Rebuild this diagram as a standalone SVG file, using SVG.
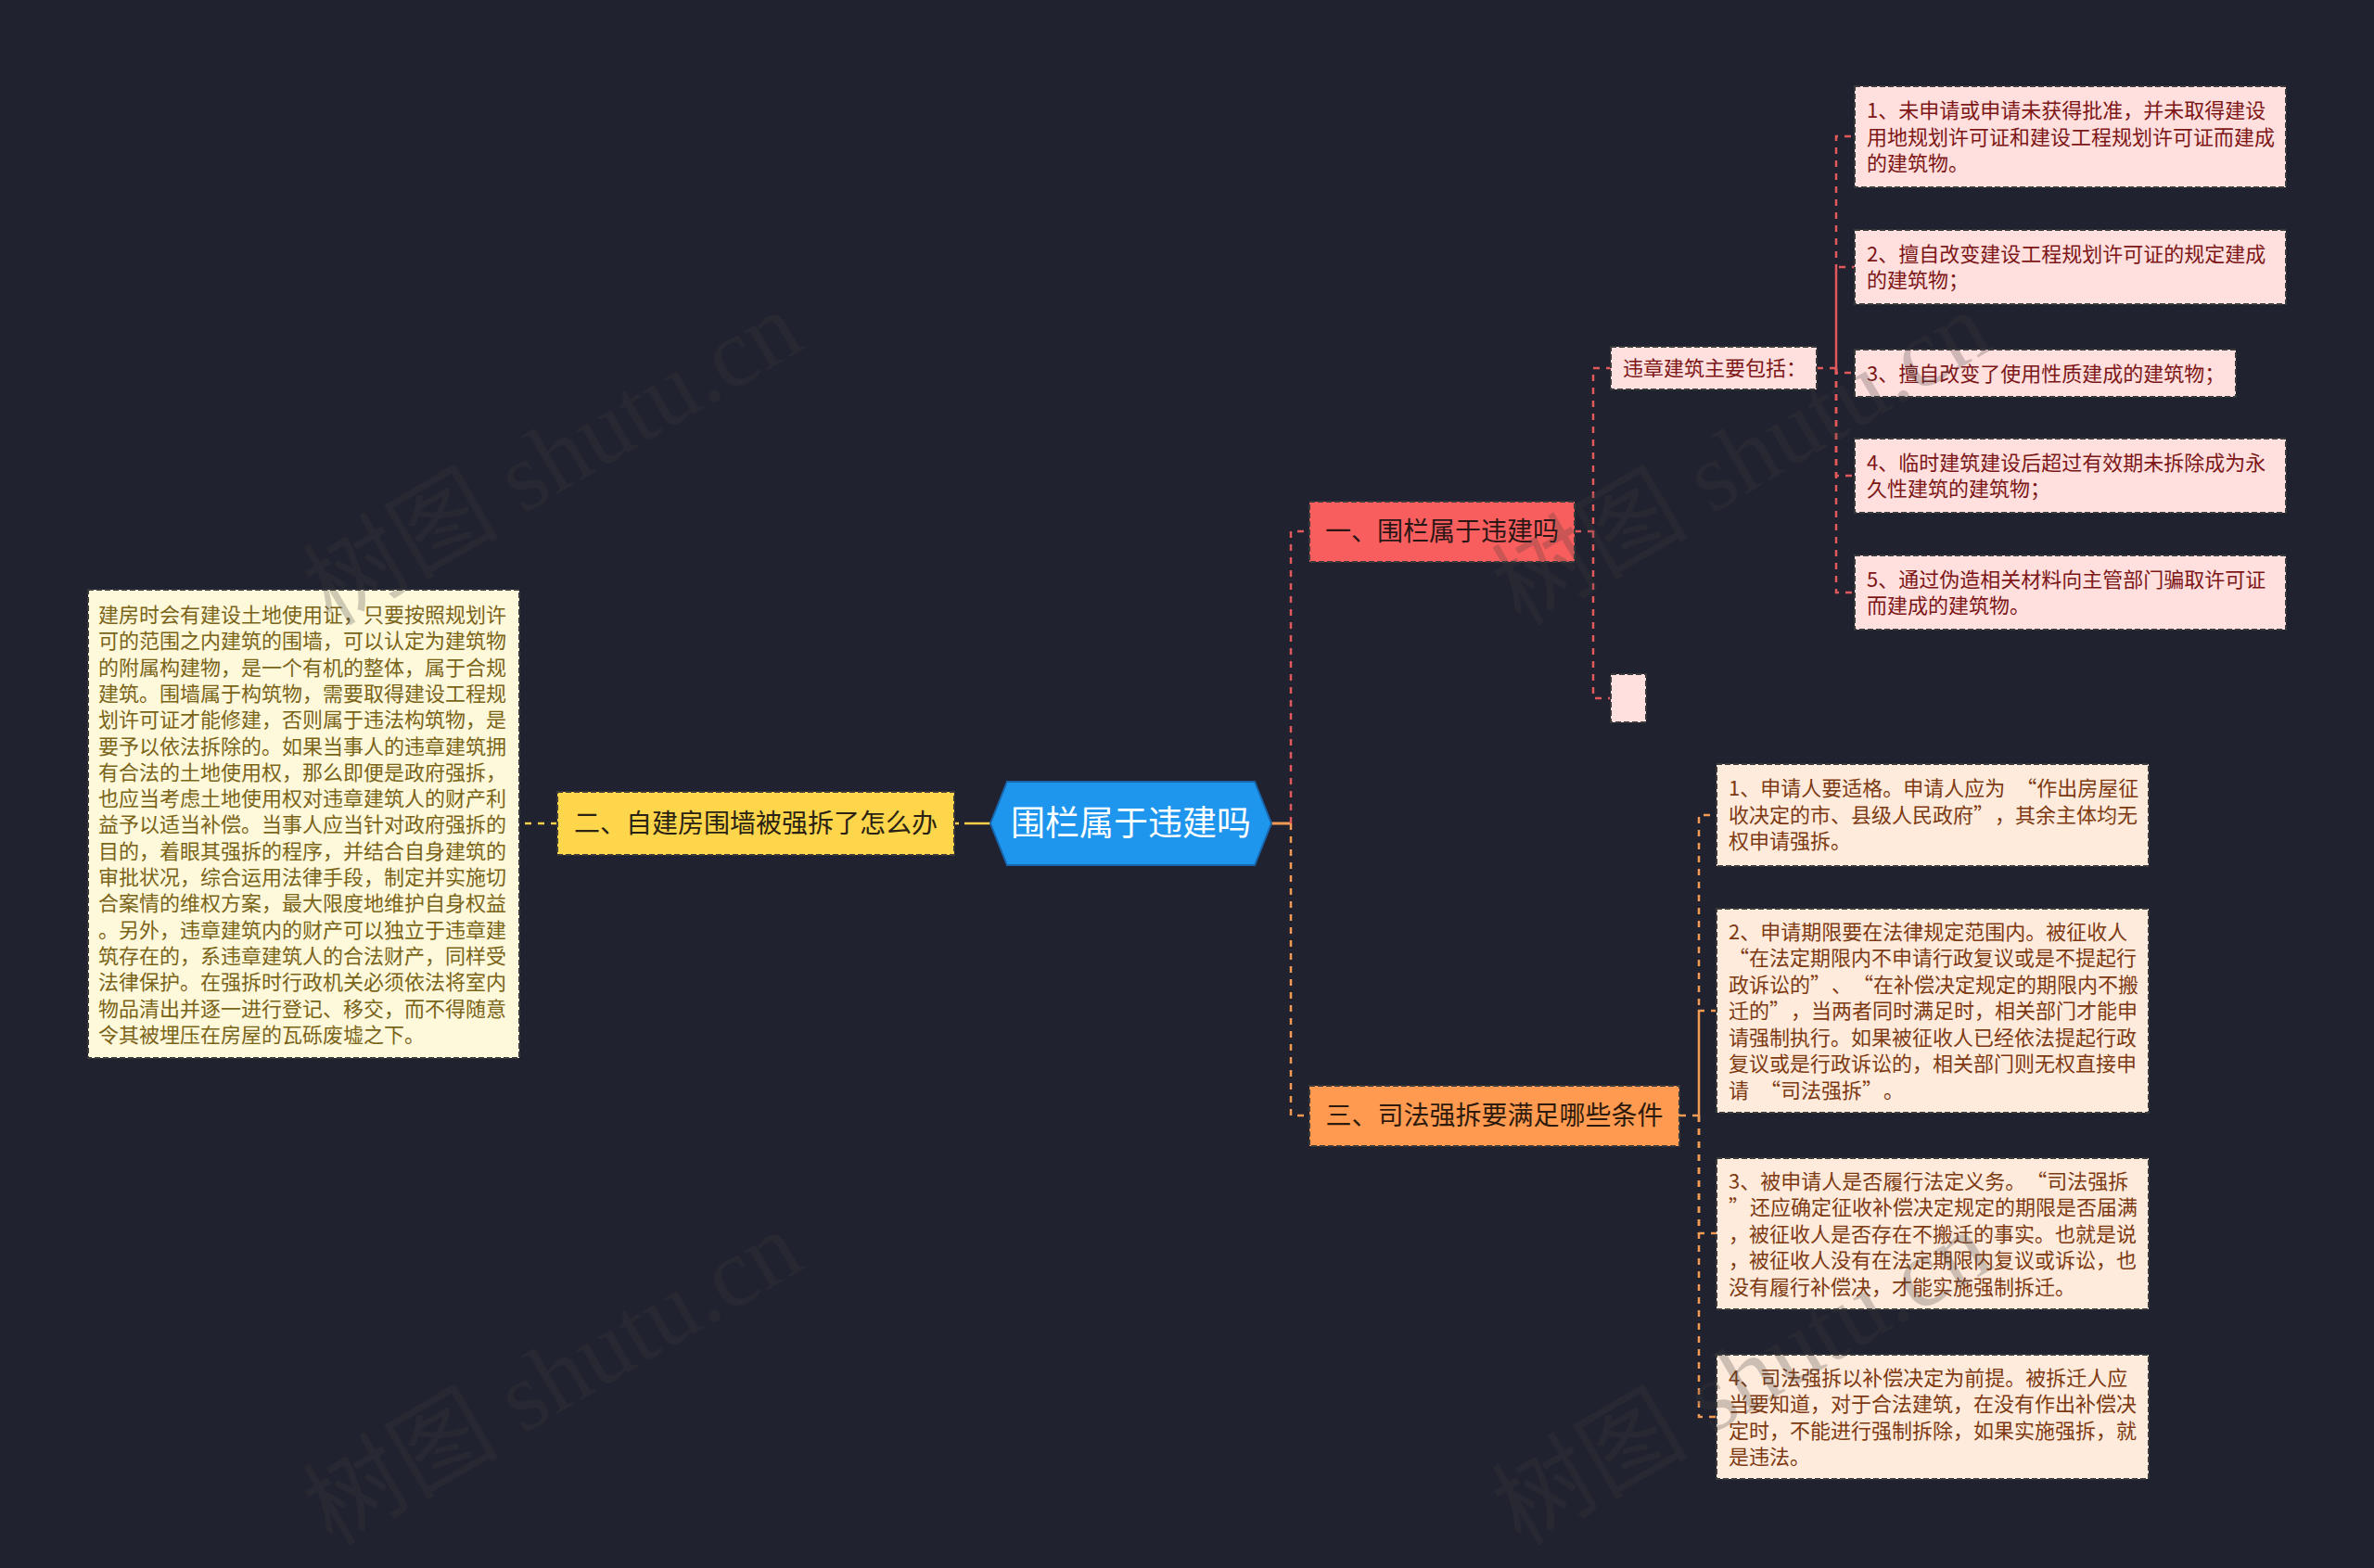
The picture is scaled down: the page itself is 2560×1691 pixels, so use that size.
<svg xmlns="http://www.w3.org/2000/svg" width="2560" height="1691" viewBox="0 0 2560 1691">
<style>
text{font-family:"Noto Sans CJK SC","Noto Sans",sans-serif;}
.wm{font-family:"Liberation Serif","Noto Sans CJK SC",serif;font-size:106px;fill:#3c3c3c;opacity:0.25;}
.box{stroke:#3a3a3a;stroke-width:2;stroke-dasharray:6 3;}
.leaf{font-size:22px;fill:#7a6418;}
.pk{fill:#FFE0DF;}
.pkt{font-size:22px;fill:#7d1616;}
.pc{fill:#FFEBDC;}
.pct{font-size:22px;fill:#7d3a12;}
.red{fill:none;stroke:#E2595B;stroke-width:2.5;stroke-dasharray:7 7;}
.org{fill:none;stroke:#F39A55;stroke-width:2.5;stroke-dasharray:7 7;}
.yel{fill:none;stroke:#F5CF4A;stroke-width:2.5;stroke-dasharray:7 7;}
</style>
<rect x="0" y="0" width="2560" height="1691" fill="#20222F"/>

<g id="connectors">
  <line x1="1371" y1="888" x2="1392" y2="888" stroke="#F39A55" stroke-width="3"/>
  <path class="red" d="M1392,888 V573 H1412"/>
  <path class="org" d="M1392,888 V1203 H1412"/>
  <path class="yel" d="M1068,888 H1029" style="stroke-dasharray:28 6 6 6"/>
  <path class="yel" d="M601,888 H560"/>
  <path class="red" d="M1698,573 H1718 V397 H1737"/>
  <path class="red" d="M1718,573 V753 H1737"/>
  <path class="red" d="M1959,397 H1980 V147 H2000"/>
  <path class="red" d="M1980,397 V288 H2000"/>
  <path class="red" d="M1980,397 V402 H2000"/>
  <path class="red" d="M1980,397 V513 H2000"/>
  <path class="red" d="M1980,397 V639 H2000"/>
  <path class="org" d="M1811,1203 H1832 V879 H1851"/>
  <path class="org" d="M1832,1203 V1090 H1851"/>
  <path class="org" d="M1832,1203 V1330 H1851"/>
  <path class="org" d="M1832,1203 V1528 H1851"/>
</g>

<g id="root">
  <polygon points="1068,888 1086,843 1353,843 1371,888 1353,933 1086,933" fill="#1E96EE" stroke="#1866AD" stroke-width="2"/>
  <text x="1219.5" y="901" font-size="37" fill="#FFFFFF" text-anchor="middle">围栏属于违建吗</text>
</g>

<g id="n2">
  <rect class="box" x="601" y="854" width="428" height="68" fill="#FDD64C"/>
  <text x="815" y="898" font-size="28" fill="#2a2212" text-anchor="middle">二、自建房围墙被强拆了怎么办</text>
</g>

<g id="n2-leaf">
  <rect class="box" x="95" y="636" width="465" height="505" fill="#FFF9DC"/>
  <text class="leaf">
    <tspan x="106" y="671">建房时会有建设土地使用证，只要按照规划许</tspan>
    <tspan x="106" y="699.3">可的范围之内建筑的围墙，可以认定为建筑物</tspan>
    <tspan x="106" y="727.6">的附属构建物，是一个有机的整体，属于合规</tspan>
    <tspan x="106" y="755.9">建筑。围墙属于构筑物，需要取得建设工程规</tspan>
    <tspan x="106" y="784.2">划许可证才能修建，否则属于违法构筑物，是</tspan>
    <tspan x="106" y="812.5">要予以依法拆除的。如果当事人的违章建筑拥</tspan>
    <tspan x="106" y="840.8">有合法的土地使用权，那么即便是政府强拆，</tspan>
    <tspan x="106" y="869.1">也应当考虑土地使用权对违章建筑人的财产利</tspan>
    <tspan x="106" y="897.4">益予以适当补偿。当事人应当针对政府强拆的</tspan>
    <tspan x="106" y="925.7">目的，着眼其强拆的程序，并结合自身建筑的</tspan>
    <tspan x="106" y="954">审批状况，综合运用法律手段，制定并实施切</tspan>
    <tspan x="106" y="982.3">合案情的维权方案，最大限度地维护自身权益</tspan>
    <tspan x="106" y="1010.6">。另外，违章建筑内的财产可以独立于违章建</tspan>
    <tspan x="106" y="1038.9">筑存在的，系违章建筑人的合法财产，同样受</tspan>
    <tspan x="106" y="1067.2">法律保护。在强拆时行政机关必须依法将室内</tspan>
    <tspan x="106" y="1095.5">物品清出并逐一进行登记、移交，而不得随意</tspan>
    <tspan x="106" y="1123.8">令其被埋压在房屋的瓦砾废墟之下。</tspan>
  </text>
</g>

<g id="n1">
  <rect class="box" x="1412" y="541" width="286" height="65" fill="#F95E5E"/>
  <text x="1555" y="583" font-size="28" fill="#2b1616" text-anchor="middle">一、围栏属于违建吗</text>
</g>

<g id="n1-a">
  <rect class="box pk" x="1737" y="374" width="222" height="46"/>
  <text class="pkt" x="1750" y="405">违章建筑主要包括：</text>
</g>

<g id="n1-b">
  <rect class="box pk" x="1737" y="727" width="38" height="52"/>
</g>

<g id="n1-a-1">
  <rect class="box pk" x="2000" y="93" width="465" height="109"/>
  <text class="pkt"><tspan x="2013" y="127">1、未申请或申请未获得批准，并未取得建设</tspan><tspan x="2013" y="155.5">用地规划许可证和建设工程规划许可证而建成</tspan><tspan x="2013" y="184">的建筑物。</tspan></text>
</g>
<g id="n1-a-2">
  <rect class="box pk" x="2000" y="248" width="465" height="80"/>
  <text class="pkt"><tspan x="2013" y="281.5">2、擅自改变建设工程规划许可证的规定建成</tspan><tspan x="2013" y="310">的建筑物；</tspan></text>
</g>
<g id="n1-a-3">
  <rect class="box pk" x="2000" y="377" width="411" height="51"/>
  <text class="pkt" x="2013" y="410.5">3、擅自改变了使用性质建成的建筑物；</text>
</g>
<g id="n1-a-4">
  <rect class="box pk" x="2000" y="473" width="465" height="80"/>
  <text class="pkt"><tspan x="2013" y="506.5">4、临时建筑建设后超过有效期未拆除成为永</tspan><tspan x="2013" y="535">久性建筑的建筑物；</tspan></text>
</g>
<g id="n1-a-5">
  <rect class="box pk" x="2000" y="599" width="465" height="80"/>
  <text class="pkt"><tspan x="2013" y="632.5">5、通过伪造相关材料向主管部门骗取许可证</tspan><tspan x="2013" y="661">而建成的建筑物。</tspan></text>
</g>

<g id="n3">
  <rect class="box" x="1412" y="1171" width="399" height="65" fill="#FF9A50"/>
  <text x="1611.5" y="1213" font-size="28" fill="#2e1a0c" text-anchor="middle">三、司法强拆要满足哪些条件</text>
</g>

<g id="n3-1">
  <rect class="box pc" x="1851" y="824" width="466" height="110"/>
  <text class="pct"><tspan x="1864" y="858">1、申请人要适格。申请人应为<tspan dx="12">“</tspan>作出房屋征</tspan><tspan x="1864" y="886.5">收决定的市、县级人民政府”<tspan dx="12">，其余主体均无</tspan></tspan><tspan x="1864" y="915">权申请强拆。</tspan></text>
</g>
<g id="n3-2">
  <rect class="box pc" x="1851" y="980" width="466" height="220"/>
  <text class="pct"><tspan x="1864" y="1012.5">2、申请期限要在法律规定范围内。被征收人</tspan><tspan x="1864" y="1041">“在法定期限内不申请行政复议或是不提起行</tspan><tspan x="1864" y="1069.5">政诉讼的”<tspan dx="12">、</tspan><tspan dx="12">“</tspan>在补偿决定规定的期限内不搬</tspan><tspan x="1864" y="1098">迁的”<tspan dx="12">，当两者同时满足时，相关部门才能申</tspan></tspan><tspan x="1864" y="1126.5">请强制执行。如果被征收人已经依法提起行政</tspan><tspan x="1864" y="1155">复议或是行政诉讼的，相关部门则无权直接申</tspan><tspan x="1864" y="1183.5">请<tspan dx="12">“</tspan>司法强拆”<tspan dx="12">。</tspan></tspan></text>
</g>
<g id="n3-3">
  <rect class="box pc" x="1851" y="1249" width="466" height="163"/>
  <text class="pct"><tspan x="1864" y="1281.5">3、被申请人是否履行法定义务。<tspan dx="12">“</tspan>司法强拆</tspan><tspan x="1864" y="1310">”<tspan dx="1">还应确定征收补偿决定规定的期限是否届满</tspan></tspan><tspan x="1864" y="1338.5">，被征收人是否存在不搬迁的事实。也就是说</tspan><tspan x="1864" y="1367">，被征收人没有在法定期限内复议或诉讼，也</tspan><tspan x="1864" y="1395.5">没有履行补偿决，才能实施强制拆迁。</tspan></text>
</g>
<g id="n3-4">
  <rect class="box pc" x="1851" y="1461" width="466" height="134"/>
  <text class="pct"><tspan x="1864" y="1493.5">4、司法强拆以补偿决定为前提。被拆迁人应</tspan><tspan x="1864" y="1522">当要知道，对于合法建筑，在没有作出补偿决</tspan><tspan x="1864" y="1550.5">定时，不能进行强制拆除，如果实施强拆，就</tspan><tspan x="1864" y="1579">是违法。</tspan></text>
</g>

<g id="watermarks">
  <text class="wm" transform="translate(358,676) rotate(-30.5)">树图 shutu.cn</text>
  <text class="wm" transform="translate(1640,676) rotate(-30.5)">树图 shutu.cn</text>
  <text class="wm" transform="translate(358,1668) rotate(-30.5)">树图 shutu.cn</text>
  <text class="wm" transform="translate(1640,1668) rotate(-30.5)">树图 shutu.cn</text>
</g>
</svg>
